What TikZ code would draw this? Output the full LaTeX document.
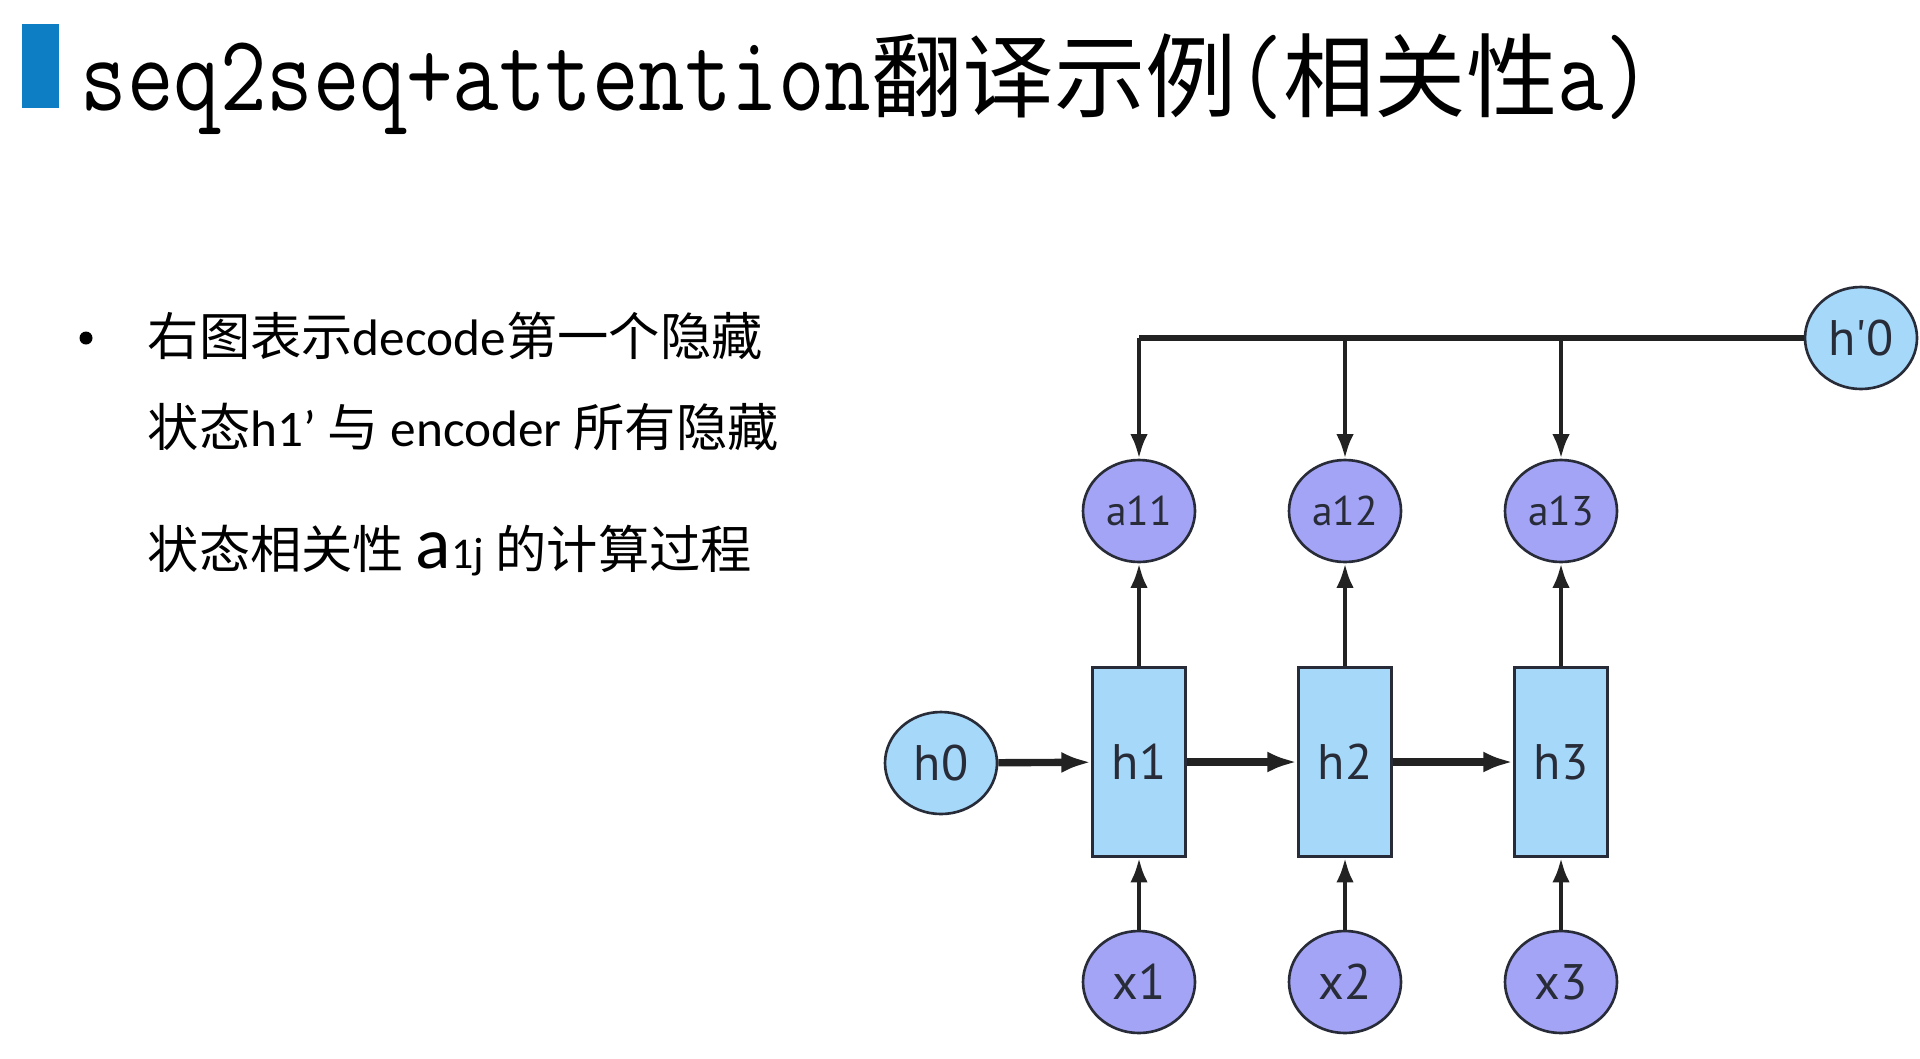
\documentclass[tikz,border=0pt]{standalone}
\usepackage{fontspec}
\setmainfont{Carlito}
\newfontfamily\cjk{Noto Sans CJK SC}
\newfontfamily\nodefont{PT Sans}
\usetikzlibrary{shapes.geometric,arrows.meta}

\definecolor{cellblue}{RGB}{166,216,250}
\definecolor{attnviolet}{RGB}{164,164,246}
\definecolor{barblue}{RGB}{14,126,196}
\definecolor{wire}{RGB}{34,34,34}
\definecolor{rim}{RGB}{40,44,56}

\newcommand{\tlat}[1]{\scalebox{1}[1.2]{\ttfamily\fontsize{25.7}{26}\selectfont #1}}
\newcommand{\tcjk}[1]{{\cjk\fontsize{26}{26}\selectfont #1}}
\newcommand{\bodysize}{\fontsize{14.6}{17}\selectfont}

\begin{document}
\begin{tikzpicture}[
	hstate/.style={ellipse,draw=rim,line width=0.75pt,fill=cellblue,minimum width=1.12cm,minimum height=1.02cm,inner sep=0pt,text=rim,font=\nodefont\fontsize{14.2}{15}\selectfont},
	attn/.style={hstate,fill=attnviolet,font=\nodefont\fontsize{11.8}{12}\selectfont},
	inp/.style={hstate,fill=attnviolet},
	cell/.style={rectangle,draw=rim,line width=0.75pt,fill=cellblue,minimum width=0.93cm,minimum height=1.89cm,inner sep=0pt,text=rim,font=\nodefont\fontsize{14.2}{15}\selectfont},
	feed/.style={draw=wire,line width=2.1pt,-{Latex[length=8.5pt,width=6pt]}},
	up/.style={draw=wire,line width=1.3pt,-{Latex[length=7pt,width=5pt]}},
	bus/.style={draw=wire,line width=1.6pt}
	]
	\fill[white] (0,0) rectangle (19.2,10.58);
	\useasboundingbox (0,0) rectangle (19.2,10.58);

	% title
	\fill[barblue] (0.22,9.50) rectangle (0.59,10.34);
	\node[anchor=base west,inner sep=0pt] (title) at (0.80,9.48)
		{\tlat{seq2seq+attention}\tcjk{翻译示例}\tlat{(}\tcjk{相关性}\tlat{a)}};

	% left text
	\node[circle,fill=black,inner sep=0pt,minimum size=0.13cm] (bullet) at (0.86,7.20) {};
	\node[anchor=base west,inner sep=0pt,font=\bodysize] (line1) at (1.47,7.03)
		{{\cjk 右图表示}decode{\cjk 第一个隐藏}};
	\node[anchor=base west,inner sep=0pt,font=\bodysize] (line2) at (1.47,6.12)
		{{\cjk 状态}h1’ {\cjk 与} encoder {\cjk 所有隐藏}};
	\node[anchor=base west,inner sep=0pt,font=\bodysize] (line3) at (1.47,4.90)
		{{\cjk 状态相关性} {\fontsize{21}{21}\selectfont a}{\fontsize{12.5}{13}\selectfont 1j} {\cjk 的计算过程}};

	% encoder
	\node[hstate] (h0) at (9.41,2.95) {h0};
	\node[cell] (h1) at (11.39,2.96) {h1};
	\node[cell] (h2) at (13.45,2.96) {h2};
	\node[cell] (h3) at (15.61,2.96) {h3};
	\node[inp] (x1) at (11.39,0.76) {x1};
	\node[inp] (x2) at (13.45,0.76) {x2};
	\node[inp] (x3) at (15.61,0.76) {x3};
	\node[attn] (a11) at (11.39,5.47) {a11};
	\node[attn] (a12) at (13.45,5.47) {a12};
	\node[attn] (a13) at (15.61,5.47) {a13};
	\node[hstate] (hp) at (18.61,7.20) {h'0};
	\coordinate (b1) at (11.39,7.20);
	\coordinate (b2) at (13.45,7.20);
	\coordinate (b3) at (15.61,7.20);

	\draw[feed] (h0) -- (h1);
	\draw[feed] (h1) -- (h2);
	\draw[feed] (h2) -- (h3);
	\draw[up] (x1) -- (h1);
	\draw[up] (x2) -- (h2);
	\draw[up] (x3) -- (h3);
	\draw[up] (h1) -- (a11);
	\draw[up] (h2) -- (a12);
	\draw[up] (h3) -- (a13);

	% decoder state h'0
	\draw[bus] (hp) -- (b1);
	\draw[up] (b1) -- (a11);
	\draw[up] (b2) -- (a12);
	\draw[up] (b3) -- (a13);
\end{tikzpicture}
\end{document}
